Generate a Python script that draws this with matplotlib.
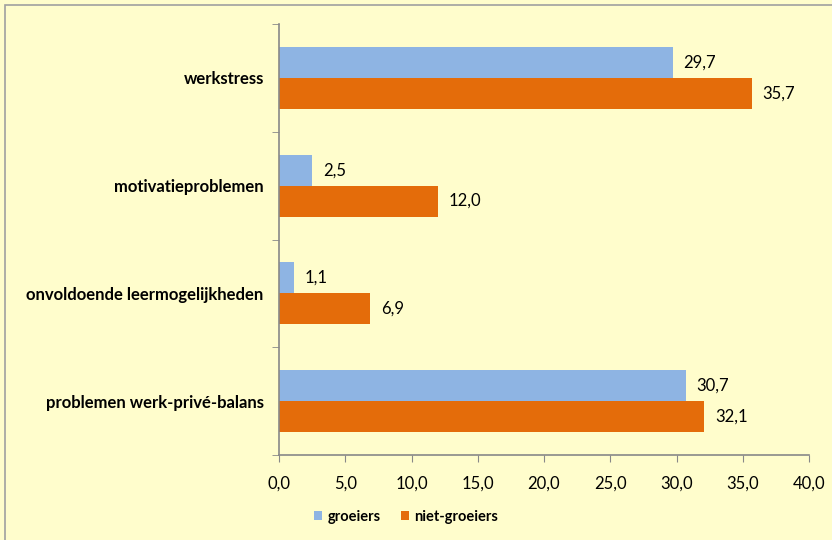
import matplotlib.pyplot as plt
import numpy as np
from matplotlib.patches import Rectangle

# data (top to bottom as in the chart)
categories = ['werkstress', 'motivatieproblemen', 'onvoldoende leermogelijkheden',
              'problemen werk-privé-balans']
groeiers = [29.7, 2.5, 1.1, 30.7]
niet_groeiers = [35.7, 12.0, 6.9, 32.1]
xticks = [0, 5, 10, 15, 20, 25, 30, 35, 40]

bg = '#FFFDCC'
blue = '#8EB4E3'
orange = '#E46C0A'
axcol = '#888888'

plt.rcParams['font.family'] = ['Lato', 'DejaVu Sans']

fig = plt.figure(figsize=(8.32, 5.4), dpi=100)
fig.patch.set_facecolor(bg)
# outer frame (only top and left are visible in the reference)
fig.patches.append(Rectangle((5/832, -0.1), 1.2, 1 - 5/540 + 0.1, transform=fig.transFigure,
                             fill=False, edgecolor='#A0A0A0', linewidth=1.2))

ax = fig.add_axes([279/832, 1 - 455/540, 530/832, 431/540])
ax.set_facecolor(bg)

n = len(categories)
y = np.arange(n)[::-1].astype(float)  # werkstress at top
h = 0.287
ax.barh(y + h/2, groeiers, height=h, color=blue, label='groeiers')
ax.barh(y - h/2, niet_groeiers, height=h, color=orange, label='niet-groeiers')

for yi, v in zip(y, groeiers):
    ax.text(v + 0.8, yi + h/2, f'{v:.1f}'.replace('.', ','), va='center', ha='left', fontsize=12)
for yi, v in zip(y, niet_groeiers):
    ax.text(v + 0.8, yi - h/2, f'{v:.1f}'.replace('.', ','), va='center', ha='left', fontsize=12)

ax.set_xlim(0, 40)
ax.set_ylim(-0.5, n - 0.5)
ax.set_xticks(xticks)
ax.set_xticklabels([f'{t:.1f}'.replace('.', ',') for t in xticks], fontsize=12)
ax.set_yticks(y)
ax.set_yticklabels(categories, fontsize=12, fontweight='bold')
ax.set_yticks(np.arange(n + 1) - 0.5, minor=True)
ax.tick_params(axis='y', which='major', length=0, pad=11)
ax.tick_params(axis='y', which='minor', length=5, color=axcol, direction='out')
ax.tick_params(axis='x', length=5, color=axcol, direction='out', pad=10)

for s in ['top', 'right']:
    ax.spines[s].set_visible(False)
for s in ['left', 'bottom']:
    ax.spines[s].set_color(axcol)
    ax.spines[s].set_linewidth(1.2)

leg = fig.legend(loc='center', bbox_to_anchor=(406/832, 1 - 517/540), ncol=2, frameon=False,
                 prop={'size': 10.5, 'weight': 'bold'}, handlelength=0.55, handleheight=0.55,
                 handletextpad=0.35, columnspacing=1.4)

fig.savefig('out.png', dpi=100, facecolor=bg)
